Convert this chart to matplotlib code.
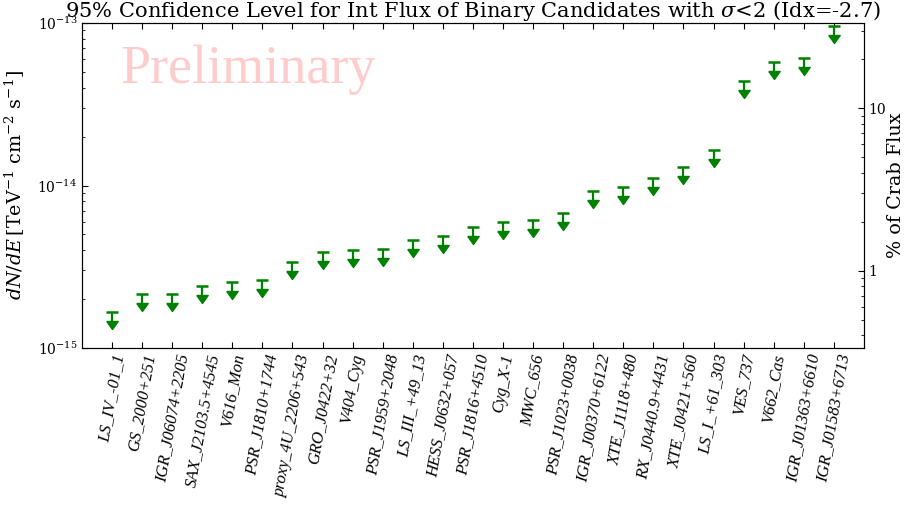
import numpy as np
import matplotlib
matplotlib.use('Agg')
import matplotlib.pyplot as plt
from matplotlib.ticker import FuncFormatter, NullFormatter

# source names and 95% CL integral flux upper limits [TeV^-1 cm^-2 s^-1]
sources = ['LS_IV_-01_1', 'GS_2000+251', 'IGR_J06074+2205', 'SAX_J2103.5+4545',
           'V616_Mon', 'PSR_J1810+1744', 'proxy_4U_2206+543', 'GRO_J0422+32',
           'V404_Cyg', 'PSR_J1959+2048', 'LS_III_+49_13', 'HESS_J0632+057',
           'PSR_J1816+4510', 'Cyg_X-1', 'MWC_656', 'PSR_J1023+0038',
           'IGR_J00370+6122', 'XTE_J1118+480', 'RX_J0440.9+4431', 'XTE_J0421+560',
           'LS_I_+61_303', 'VES_737', 'V662_Cas', 'IGR_J01363+6610', 'IGR_J01583+6713']
flux_ul = [1.66e-15, 2.14e-15, 2.14e-15, 2.40e-15, 2.54e-15, 2.61e-15, 3.37e-15,
           3.88e-15, 3.99e-15, 4.05e-15, 4.60e-15, 4.87e-15, 5.53e-15, 5.94e-15,
           6.11e-15, 6.74e-15, 9.21e-15, 9.75e-15, 1.107e-14, 1.294e-14, 1.646e-14,
           4.38e-14, 5.73e-14, 6.07e-14, 9.55e-14]
crab_flux = 2.99e-13  # 100% Crab
ylim = (1e-15, 1e-13)

plt.rcParams['font.family'] = 'DejaVu Serif'
plt.rcParams['mathtext.fontset'] = 'dejavuserif'
plt.rcParams['xtick.direction'] = 'in'
plt.rcParams['ytick.direction'] = 'in'
plt.rcParams['xtick.major.size'] = 4
plt.rcParams['ytick.major.size'] = 4
plt.rcParams['xtick.minor.size'] = 2
plt.rcParams['ytick.minor.size'] = 2
plt.rcParams['xtick.top'] = True

fig = plt.figure(figsize=(9.06, 5.07), dpi=100)
ax = fig.add_axes([0.0905, 0.3136, 0.863, 0.641])

x = np.arange(len(sources))
ul = np.array(flux_ul)
green = '#008000'

# upper limit arrows: cap, shaft, filled head
head = [(-1, 0), (1, 0), (0, -1.4), (-1, 0)]
ax.vlines(x, ul * 0.885, ul, color=green, lw=1.6)
ax.plot(x, ul, ls='none', marker='_', ms=8, mew=1.8, color=green)
ax.plot(x, ul * 0.885, ls='none', marker=head, ms=11.5, color=green, mec=green)

ax.set_yscale('log')
ax.set_ylim(*ylim)
ax.set_xlim(-1, len(sources))
ax.set_xticks(x)
ax.set_xticklabels(sources, rotation=80, ha='center', fontsize=12,
                   family='Liberation Serif', style='italic')
ax.yaxis.set_minor_formatter(NullFormatter())
ax.tick_params(axis='y', labelsize=10)
ax.set_ylabel(r'$dN/dE\,$[TeV$^{-1}$ cm$^{-2}$ s$^{-1}$]', fontsize=13.8)
ax.yaxis.set_label_coords(-0.07, 0.5)
ax.set_title(r'95% Confidence Level for Int Flux of Binary Candidates with $\sigma$<2 (Idx=-2.7)',
             fontsize=15.1, pad=4)

ax.text(0.049, 0.815, 'Preliminary', transform=ax.transAxes, fontsize=39,
        family='Liberation Serif', color='#ffcccc', va='baseline')

ax2 = ax.twinx()
ax2.set_yscale('log')
ax2.set_ylim(ylim[0] / crab_flux * 100, ylim[1] / crab_flux * 100)
ax2.yaxis.set_major_formatter(FuncFormatter(lambda v, p: '%g' % v))
ax2.yaxis.set_minor_formatter(NullFormatter())
ax2.tick_params(axis='y', labelsize=10)
ax2.set_ylabel('% of Crab Flux', fontsize=13.8)
ax2.yaxis.set_label_coords(1.03, 0.5)

fig.savefig('out.png', dpi=100)
